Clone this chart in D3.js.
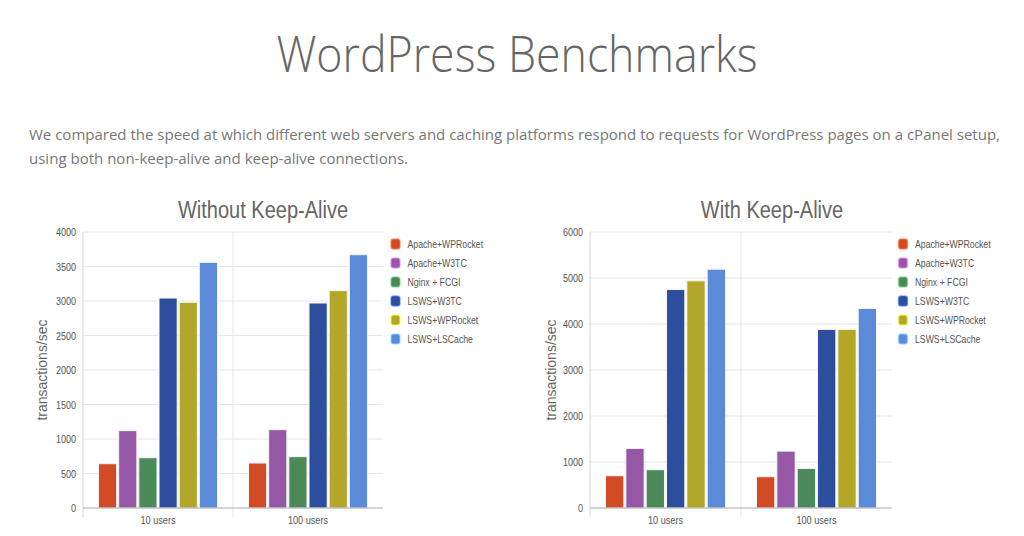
<!DOCTYPE html>
<html>
<head>
<meta charset="utf-8">
<script src="https://cdn.jsdelivr.net/npm/d3@7"></script>
<style>
  body { margin: 0; background: white; }
  svg { display: block; }
</style>
</head>
<body>
<div id="chart"></div>
<script>
// data
var groups = ["10 users", "100 users"];
var seriesNames = ["Apache+WPRocket", "Apache+W3TC", "Nginx + FCGI", "LSWS+W3TC", "LSWS+WPRocket", "LSWS+LSCache"];
var seriesColors = ["#d24b24", "#9658a6", "#4b8a58", "#2d4e9c", "#b2a728", "#5b8ad9"];
var withoutKA10 = [642, 1121, 729, 3043, 2981, 3560];
var withoutKA100 = [652, 1135, 744, 2971, 3150, 3671];
var withKA10 = [701, 1294, 832, 4750, 4938, 5191];
var withKA100 = [680, 1236, 860, 3883, 3883, 4338];
var withoutTicks = [0, 500, 1000, 1500, 2000, 2500, 3000, 3500, 4000];
var withTicks = [0, 1000, 2000, 3000, 4000, 5000, 6000];

var chartFont = "'Liberation Sans', Arial, sans-serif";

var svg = d3.select("#chart")
    .append("svg")
    .attr("width", 1024)
    .attr("height", 536);

// the chart images are squashed sideways, so squeeze text to match
function squeeze(sel, k) {
    sel.each(function() {
        var w = this.getComputedTextLength();
        d3.select(this)
            .attr("textLength", w * k)
            .attr("lengthAdjust", "spacingAndGlyphs");
    });
}

// page header
svg.append("text")
    .attr("x", 517)
    .attr("y", 72)
    .attr("text-anchor", "middle")
    .attr("font-family", "'Open Sans'")
    .attr("font-weight", 300)
    .attr("font-size", 49)
    .attr("fill", "#666")
    .attr("textLength", 481)
    .attr("lengthAdjust", "spacingAndGlyphs")
    .text("WordPress Benchmarks");

svg.append("text")
    .attr("x", 29)
    .attr("y", 140)
    .attr("font-family", "'Open Sans'")
    .attr("font-size", 15)
    .attr("fill", "#777")
    .attr("textLength", 971)
    .attr("lengthAdjust", "spacingAndGlyphs")
    .text("We compared the speed at which different web servers and caching platforms respond to requests for WordPress pages on a cPanel setup,");
svg.append("text")
    .attr("x", 29)
    .attr("y", 164)
    .attr("font-family", "'Open Sans'")
    .attr("font-size", 15)
    .attr("fill", "#777")
    .attr("textLength", 379)
    .attr("lengthAdjust", "spacingAndGlyphs")
    .text("using both non-keep-alive and keep-alive connections.");

function drawChart(opts) {
    var g = svg.append("g");
    var x0 = d3.scaleBand().domain(groups).range([opts.left, opts.right]);
    var x1 = d3.scaleBand().domain(seriesNames)
        .range([15.5, x0.bandwidth() - 15.5])
        .paddingInner(0.1);
    var y = d3.scaleLinear().domain([0, opts.max]).range([508, 232]);

    // grid
    g.selectAll(".grid").data(opts.ticks.slice(1)).enter()
        .append("line")
        .attr("x1", opts.left).attr("x2", opts.right)
        .attr("y1", function(d) { return y(d); })
        .attr("y2", function(d) { return y(d); })
        .style("stroke", "#e6e6e6");
    g.selectAll(".vgrid").data(groups.slice(1)).enter()
        .append("line")
        .attr("x1", function(d) { return x0(d); })
        .attr("x2", function(d) { return x0(d); })
        .attr("y1", 232).attr("y2", 517)
        .style("stroke", "#e6e6e6");
    g.append("line")
        .attr("x1", opts.left).attr("x2", opts.left)
        .attr("y1", 232).attr("y2", 517)
        .style("stroke", "#d6d6d6");

    // bars
    var rows = groups.map(function(gr, i) {
        return { group: gr, values: opts.values[i] };
    });
    var grp = g.selectAll(".grp").data(rows).enter()
        .append("g")
        .attr("transform", function(d) { return "translate(" + x0(d.group) + ",0)"; });
    grp.selectAll("rect")
        .data(function(d) { return d.values.map(function(v, j) { return { name: seriesNames[j], v: v, c: seriesColors[j] }; }); })
        .enter().append("rect")
        .attr("x", function(d) { return x1(d.name); })
        .attr("width", x1.bandwidth())
        .attr("y", function(d) { return y(d.v); })
        .attr("height", function(d) { return 508 - y(d.v); })
        .style("fill", function(d) { return d.c; })
        .style("stroke", "#f4f4f4")
        .style("stroke-width", 1);

    // baseline
    g.append("line")
        .attr("x1", opts.left).attr("x2", opts.right)
        .attr("y1", 508).attr("y2", 508)
        .style("stroke", "#aaa");

    // y axis
    var yAxis = g.append("g")
        .attr("transform", "translate(" + (opts.left - 7) + ",0)")
        .call(d3.axisLeft(y).tickValues(opts.ticks).tickFormat(d3.format("d")).tickSize(0).tickPadding(0));
    yAxis.select(".domain").remove();
    yAxis.selectAll("text")
        .attr("font-family", chartFont)
        .attr("font-size", 11)
        .attr("fill", "#555")
        .call(squeeze, 0.82);

    // x axis labels
    var xAxis = g.append("g")
        .attr("transform", "translate(0,516)")
        .call(d3.axisBottom(x0).tickSize(0).tickPadding(0));
    xAxis.select(".domain").remove();
    xAxis.selectAll("text")
        .attr("font-family", chartFont)
        .attr("font-size", 11)
        .attr("fill", "#555")
        .call(squeeze, 0.83);

    // title
    g.append("text")
        .attr("x", opts.titleX)
        .attr("y", 218)
        .attr("text-anchor", "middle")
        .attr("font-family", chartFont)
        .attr("font-size", 23)
        .attr("fill", "#666")
        .text(opts.title)
        .call(squeeze, 0.87);

    // y label
    g.append("text")
        .attr("transform", "translate(" + opts.labelX + ",370) rotate(-90)")
        .attr("text-anchor", "middle")
        .attr("font-family", chartFont)
        .attr("font-size", 14)
        .attr("fill", "#666")
        .text("transactions/sec");

    // legend
    var leg = g.selectAll(".leg").data(seriesNames).enter()
        .append("g")
        .attr("transform", function(d, i) { return "translate(" + opts.legendX + "," + (244 + i * 19) + ")"; });
    leg.append("rect")
        .attr("x", -4.5).attr("y", -5)
        .attr("width", 9).attr("height", 10)
        .attr("rx", 2.5)
        .style("fill", function(d, i) { return seriesColors[i]; })
        .style("stroke", function(d, i) { return d3.color(seriesColors[i]).brighter(1.2); })
        .style("stroke-opacity", 0.6)
        .style("stroke-width", 1.5);
    leg.append("text")
        .attr("x", 12)
        .attr("y", 4)
        .attr("font-family", chartFont)
        .attr("font-size", 11)
        .attr("fill", "#555")
        .text(function(d) { return d; })
        .call(squeeze, 0.79);
}

drawChart({
    left: 83, right: 383, max: 4000, ticks: withoutTicks,
    values: [withoutKA10, withoutKA100],
    title: "Without Keep-Alive", titleX: 263, labelX: 47, legendX: 395.5
});
drawChart({
    left: 590, right: 892, max: 6000, ticks: withTicks,
    values: [withKA10, withKA100],
    title: "With Keep-Alive", titleX: 772, labelX: 556, legendX: 903
});
</script>
</body>
</html>
